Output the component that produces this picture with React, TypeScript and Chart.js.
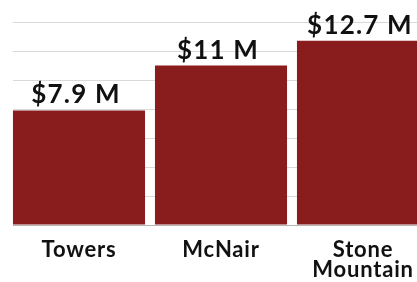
import React, { useEffect, useRef } from "react";
import { Chart, registerables } from "chart.js";

Chart.register(...registerables);

const categories: (string | string[])[] = ["Towers", "McNair", ["Stone", "Mountain"]];
const values: number[] = [7.9, 11, 12.7];
const valueLabels: string[] = ["$7.9 M", "$11 M", "$12.7 M"];

const BAR_COLOR = "#891c1d";
const FONT = "Lato, 'Open Sans', sans-serif";

const spacingPlugin = {
  id: "spacing",
  beforeDraw(chart: any) {
    (chart.ctx as any).letterSpacing = "0.8px";
  },
  beforeDatasetsDraw(chart: any) {
    const { ctx, chartArea } = chart;
    ctx.save();
    ctx.fillStyle = "#ffffff";
    ctx.fillRect(chartArea.left - 1, chartArea.top - 2, 6, chartArea.bottom - chartArea.top + 4);
    ctx.restore();
  },
};

const labelPlugin = {
  id: "valueLabels",
  afterDatasetsDraw(chart: any) {
    const ctx = chart.ctx;
    const meta = chart.getDatasetMeta(0);
    ctx.save();
    (ctx as any).letterSpacing = "1.2px";
    ctx.font = `bold 26px ${FONT}`;
    ctx.fillStyle = "#111111";
    ctx.textAlign = "center";
    ctx.textBaseline = "alphabetic";
    meta.data.forEach((bar: any, i: number) => {
      ctx.fillText(valueLabels[i], bar.x - 3, bar.y - 7);
    });
    ctx.restore();
  },
};

export default function App() {
  const ref = useRef<HTMLCanvasElement>(null);
  useEffect(() => {
    if (!ref.current) return;
    const chart = new Chart(ref.current, {
      type: "bar",
      data: {
        labels: categories,
        datasets: [
          {
            data: values,
            backgroundColor: BAR_COLOR,
            borderWidth: 0,
            categoryPercentage: 1,
            barPercentage: 0.93,
          },
        ],
      },
      options: {
        responsive: false,
        animation: false,
        layout: { padding: { left: 8, right: 1, top: 22, bottom: 0 } },
        plugins: { legend: { display: false }, tooltip: { enabled: false } },
        scales: {
          x: {
            grid: { display: false },
            border: { display: true, color: "#b5b5b5", width: 1 },
            ticks: {
              color: "#111111",
              padding: 7,
              font: { family: FONT, size: 22, weight: "bold", lineHeight: 0.92 },
              maxRotation: 0,
              autoSkip: false,
            },
            afterFit: (s: any) => {
              s.height = 57;
            },
          },
          y: {
            min: 0,
            max: 14,
            ticks: { stepSize: 2, display: false },
            grid: { color: "#d9d9d9", lineWidth: 1, drawTicks: false },
            border: { display: false },
            afterFit: (s: any) => {
              s.width = 0;
            },
          },
        },
      },
      plugins: [spacingPlugin, labelPlugin],
    });
    return () => chart.destroy();
  }, []);
  return (
    <div
      style={{
        position: "fixed",
        left: 0,
        top: 0,
        width: 417,
        height: 282,
        overflow: "hidden",
        background: "#ffffff",
      }}
    >
      <canvas ref={ref} width={435} height={282} style={{ display: "block" }} />
    </div>
  );
}
